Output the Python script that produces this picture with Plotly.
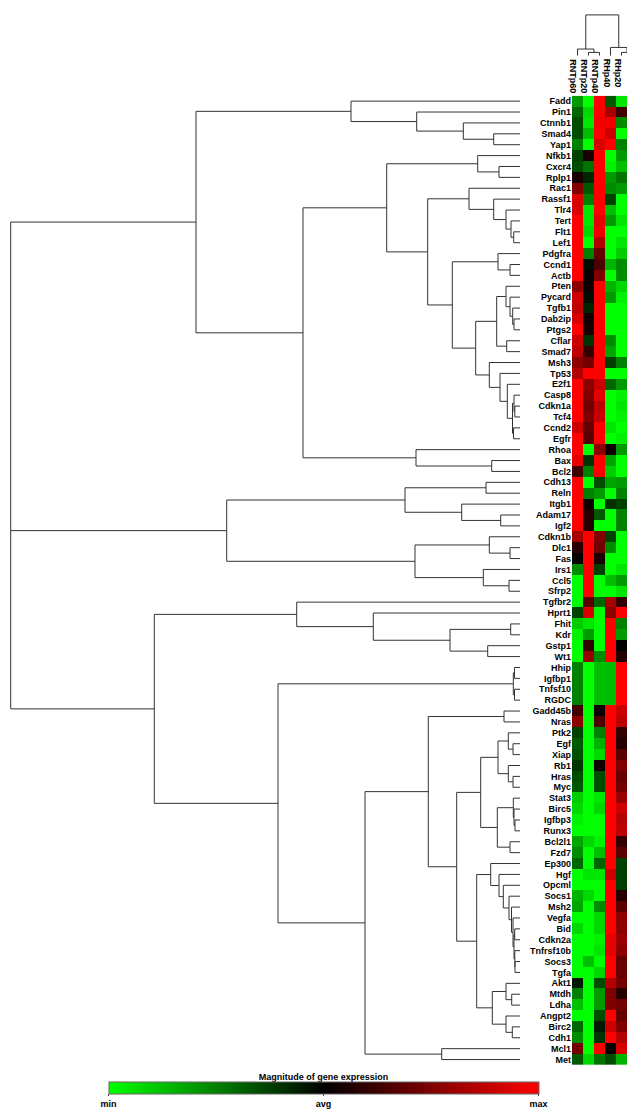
import plotly.graph_objects as go

W, H = 627, 1110

genes = ["Fadd", "Pin1", "Ctnnb1", "Smad4", "Yap1", "Nfkb1", "Cxcr4", "Rplp1", "Rac1", "Rassf1",
         "Tlr4", "Tert", "Flt1", "Lef1", "Pdgfra", "Ccnd1", "Actb", "Pten", "Pycard", "Tgfb1",
         "Dab2ip", "Ptgs2", "Cflar", "Smad7", "Msh3", "Tp53", "E2f1", "Casp8", "Cdkn1a", "Tcf4",
         "Ccnd2", "Egfr", "Rhoa", "Bax", "Bcl2", "Cdh13", "Reln", "Itgb1", "Adam17", "Igf2",
         "Cdkn1b", "Dlc1", "Fas", "Irs1", "Ccl5", "Sfrp2", "Tgfbr2", "Hprt1", "Fhit", "Kdr",
         "Gstp1", "Wt1", "Hhip", "Igfbp1", "Tnfsf10", "RGDC", "Gadd45b", "Nras", "Ptk2", "Egf",
         "Xiap", "Rb1", "Hras", "Myc", "Stat3", "Birc5", "Igfbp3", "Runx3", "Bcl2l1", "Fzd7",
         "Ep300", "Hgf", "Opcml", "Socs1", "Msh2", "Vegfa", "Bid", "Cdkn2a", "Tnfrsf10b", "Socs3",
         "Tgfa", "Akt1", "Mtdh", "Ldha", "Angpt2", "Birc2", "Cdh1", "Mcl1", "Met"]

samples = ["RNTp60", "RNTp20", "RNTp40", "RHp40", "RHp20", "RHp60"]

# relative expression (-1 = min, 0 = avg, 1 = max), one list per visible sample column
rntp60 = [-0.6, -0.4, -0.3, -0.3, -0.5, -0.25, -0.3, 0.08, 0.5, 0.85,
          0.85, 1, 1, 1, 1, 1, 1, 0.55, 0.8, 0.75,
          0.85, 1, 0.8, 0.75, 0.55, 0.7, 1, 1, 1, 1,
          0.8, 1, 1, 0.9, 0.25, 1, 1, 1, 1, 1,
          0.65, 0.15, 0.02, -0.55, -1, -1, -1, -0.25, -0.8, -0.95,
          -1, -1, -0.5, -0.5, -0.5, -0.5, 0.25, 0.55, -0.25, -0.35,
          -0.3, -0.2, -0.3, -0.35, -0.8, -0.85, -0.95, -1, -0.65, -0.55,
          -0.4, -1, -1, -0.7, -0.65, -1, -0.85, -1, -1, -1,
          -1, -0.1, -0.5, -0.75, -1, -0.4, -0.55, 0.45, -0.35]
rntp20 = [-1, -0.85, -0.9, -0.75, -1, 0.1, -0.45, -0.15, -0.35, -0.5,
          -0.9, -0.9, -0.85, -1, -0.5, -0.05, 0.05, 0.05, -0.05, -0.15,
          0.08, 0.1, -0.2, 0.2, 0.45, 1, 0.55, 0.5, 0.45, 0.5,
          0.4, 0.35, -1, -0.2, -0.5, -1, -0.5, 0.05, 0.15, 0.15,
          1, 1, 1, 1, 1, 1, 0.35, 0.85, -0.9, -0.6,
          0.2, 0.6, -1, -1, -1, -1, -1, -1, -1, -1,
          -1, -1, -1, -1, -1, -1, -1, -1, -0.85, -1,
          -1, -0.9, -1, -0.85, -1, -1, -1, -1, -1, -0.75,
          -1, -1, -1, -1, -1, -1, -1, -1, -0.85]
rntp40 = [1, 1, 0.95, 1, 0.85, 1, 1, 1, 1, 1,
          1, 0.9, 0.95, 0.7, 0.4, 0.3, 0.5, 1, 1, 1,
          1, 1, 1, 1, 1, 1, 0.8, 0.9, 0.75, 0.8,
          1, 1, 0.55, 1, 1, -0.3, -0.6, -1, -0.35, -1,
          0.5, 0.45, 0.1, -0.25, -1, -1, -0.4, -1, -1, -1,
          -1, -0.55, -0.75, -0.75, -0.75, -0.75, 0.05, 0.3, -0.5, -0.7,
          -0.85, 0.05, -0.3, -0.3, -0.9, -0.85, -1, -1, -0.95, -0.75,
          -0.4, -0.9, -1, -1, -0.55, -0.85, -0.85, -0.95, -0.9, -1,
          -0.85, -0.3, -0.6, -0.6, -0.3, -0.1, -0.2, 1, -0.45]
rhp40 = [-0.35, 0.65, 0.95, 0.8, 1, -1, -0.95, -0.6, -0.55, -0.25,
         -0.75, -0.6, -1, -1, -1, -0.7, -1, -0.7, -0.6, -1,
         -1, -1, -0.55, -0.65, -0.25, -1, -0.4, -1, -1, -1,
         -0.9, -1, 0.05, -0.65, -0.8, -0.65, -1, -0.2, -1, -1,
         -0.25, -0.55, -1, -1, -0.75, -1, 0.65, 0.55, 1, 1,
         1, 1, -0.75, -0.75, -0.75, -0.75, 1, 1, 1, 1,
         1, 1, 1, 1, 1, 1, 1, 1, 1, 1,
         1, 0.8, 1, 1, 1, 1, 1, 0.9, 0.9, 1,
         1, 0.7, 0.5, 0.5, 1, 0.8, 1, 0.0, -0.3]
rhp20 = [-0.9, 0.25, -0.55, -1, -0.5, -0.6, -0.75, -0.45, -0.6, -1,
         -1, -0.9, -1, -0.9, -0.8, -0.55, -0.55, -0.85, -0.95, -1,
         -1, -1, -1, -1, -0.5, -1, -0.6, -0.95, -0.9, -0.95,
         -1, -0.95, -0.6, -1, -1, -0.6, -0.5, -0.25, -0.5, -0.5,
         -1, -1, -1, -0.9, -0.6, -0.9, 0.2, 1, -0.5, -0.6,
         0.0, 0.15, 1, 1, 1, 1, 0.8, 0.75, 0.2, 0.15,
         0.35, 0.5, 0.4, 0.45, 0.6, 0.8, 0.7, 0.75, 0.2, 0.35,
         -0.25, -0.25, -0.25, 0.15, 0.35, 0.55, 0.55, 0.6, 0.55, 0.4,
         0.4, 0.45, 0.15, 0.45, 0.4, 0.5, 0.7, 0.85, -0.7]

# gene clustering tree: [merge distance, child, child, ...]; leaves are gene names
top_cluster = [320,
               [165, "Fadd", [99.3, "Pin1", [52.7, "Ctnnb1", [22.3, "Smad4", "Yap1"]]]],
               [213,
                [129.3,
                 [38.3, "Nfkb1", [17, "Cxcr4", "Rplp1"]],
                 [88.3,
                  [47, "Rac1", [22.3, "Rassf1", [10, "Tlr4", [5, "Tert", [2.3, "Flt1", "Lef1"]]]]],
                  [63.7,
                   [18, "Pdgfra", [6, "Ccnd1", "Actb"]],
                   [40.3,
                    [19.3,
                     [10, "Pten", [6, "Pycard", [3.3, "Tgfb1", [2, "Dab2ip", "Ptgs2"]]]],
                     [9.3, "Cflar", "Smad7"]],
                    [26.7, "Msh3",
                     [16, "Tp53",
                      [8.7, "E2f1",
                       [3.5, [2, "Casp8", [1.2, "Cdkn1a", "Tcf4"]], [2.5, "Ccnd2", "Egfr"]]]]]]]]],
                [100, "Rhoa", [24.3, "Bax", "Bcl2"]]]]
middle_cluster = [289.3,
                  [111, [30, "Cdh13", "Reln"], [54.3, "Itgb1", [15.3, "Adam17", "Igf2"]]],
                  [101, [26.7, "Cdkn1b", [6, "Dlc1", "Fas"]], [32.7, "Irs1", [7, "Ccl5", "Sfrp2"]]]]
bottom_cluster = [361.7,
                  [219.3, "Tgfbr2", [142.7, "Hprt1", [66, [5.3, "Fhit", "Kdr"], [28.3, "Gstp1", "Wt1"]]]],
                  [238,
                   [2.7, [1.5, "Hhip", "Igfbp1"], [1.5, "Tnfsf10", "RGDC"]],
                   [151,
                    [87.7,
                     [12, "Gadd45b", "Nras"],
                     [59.3,
                      [35.3,
                       [18, [7.7, "Ptk2", [3, "Egf", "Xiap"]], [7.7, "Rb1", [3, "Hras", "Myc"]]],
                       [18.7, [2.7, "Stat3", [2, "Birc5", [1, "Igfbp3", "Runx3"]]], [6, "Bcl2l1", "Fzd7"]]],
                      [39.3,
                       [25.3, "Ep300",
                        [17, "Hgf",
                         [12.7, "Opcml",
                          [7, "Socs1",
                           [4.5, "Msh2",
                            [3, "Vegfa",
                             [2, [1.3, "Bid", "Cdkn2a"], [1.2, "Tnfrsf10b", [1, "Socs3", "Tgfa"]]]]]]]]],
                       [23.7, [10, "Akt1", [4.3, "Mtdh", "Ldha"]], [10, "Angpt2", [3.7, "Birc2", "Cdh1"]]]]]],
                    [74.3, "Mcl1", "Met"]]]]
gene_tree = [505.3, top_cluster, middle_cluster, bottom_cluster]

# sample clustering tree
sample_tree = [41, [6.7, "RNTp60", [3.3, "RNTp20", "RNTp40"]], [8.3, "RHp40", [3.3, "RHp20", "RHp60"]]]

colorscale = [[0.0, "#00ff00"], [0.5, "#000000"], [1.0, "#ff0000"]]
cb_labels = ["min", "avg", "max"]
cb_title = "Magnitude of gene expression"

LEAF_EXT = -4.0


def tree_segments(node, pos, xs, ys, leaf_h):
    """returns (position, height) of node and appends line segments (height, position)."""
    if isinstance(node, str):
        return pos[node], leaf_h
    h = node[0]
    cps = []
    for child in node[1:]:
        cp, ch = tree_segments(child, pos, xs, ys, leaf_h)
        xs += [ch, h, None]
        ys += [cp, cp, None]
        cps.append(cp)
    xs += [h, h, None]
    ys += [min(cps), max(cps), None]
    return (min(cps) + max(cps)) / 2, h


gene_pos = {g: i for i, g in enumerate(genes)}
dx, dy = [], []
tree_segments(gene_tree, gene_pos, dx, dy, LEAF_EXT)

sample_pos = {s: i for i, s in enumerate(samples)}
sx, sy = [], []
tree_segments(sample_tree, sample_pos, sy, sx, 0.0)

z = [list(r) for r in zip(rntp60, rntp20, rntp40, rhp40, rhp20)]


def px(p):  # pixel from left -> paper x
    return p / W


def py(p):  # pixel from top -> paper y
    return 1 - p / H


BOLD9 = dict(family="Liberation Sans", size=9, color="black", weight="bold")

fig = go.Figure()

fig.add_trace(go.Heatmap(
    z=z, x=list(range(5)), y=list(range(len(genes))),
    colorscale=colorscale, zmin=-1, zmax=1, xgap=0, ygap=0,
    hoverinfo="skip",
    colorbar=dict(
        orientation="h", lenmode="pixels", len=430, thickness=12,
        x=px(323.5), xanchor="center", y=py(1078), yanchor="top",
        xpad=0, ypad=0, outlinewidth=1, outlinecolor="#666666",
        tickvals=[-1, 0, 1], ticktext=cb_labels, ticks="outside", ticklen=2,
        tickcolor="#444444",
        tickfont=BOLD9,
        title=dict(text=cb_title, side="top", font=BOLD9),
    ),
    xaxis="x", yaxis="y",
))

fig.add_trace(go.Scatter(x=dx, y=dy, mode="lines", line=dict(color="#333333", width=1),
                         xaxis="x2", yaxis="y", hoverinfo="skip", showlegend=False))
fig.add_trace(go.Scatter(x=sx, y=sy, mode="lines", line=dict(color="#333333", width=1),
                         xaxis="x", yaxis="y3", hoverinfo="skip", showlegend=False))

for i, s in enumerate(samples):
    fig.add_annotation(x=i, y=py(57), xref="x", yref="paper", text=s, textangle=90,
                       showarrow=False, xanchor="center", yanchor="top", xshift=-4,
                       font=BOLD9)

fig.update_layout(
    width=W, height=H, margin=dict(l=0, r=0, t=0, b=0),
    paper_bgcolor="white", plot_bgcolor="white", showlegend=False,
    xaxis=dict(domain=[px(572), 1], range=[-0.5, 4.5], showticklabels=False, showgrid=False,
               zeroline=False, ticks="", anchor="y", fixedrange=True),
    yaxis=dict(domain=[py(1070.8), py(96.2)], range=[len(genes) - 0.5, -0.5],
               tickvals=list(range(len(genes))), ticktext=genes, ticks="", showgrid=False,
               zeroline=False, anchor="x", tickfont=BOLD9),
    xaxis2=dict(domain=[0, px(522)], range=[516, -6], showticklabels=False, showgrid=False,
                zeroline=False, ticks="", anchor="y"),
    yaxis3=dict(domain=[py(56), py(10)], range=[0, 46], showticklabels=False, showgrid=False,
                zeroline=False, ticks="", anchor="x"),
)

fig.write_html("out.html", config={"displayModeBar": False},
               post_script="document.body.style.margin='0px';document.body.style.overflow='hidden';")
